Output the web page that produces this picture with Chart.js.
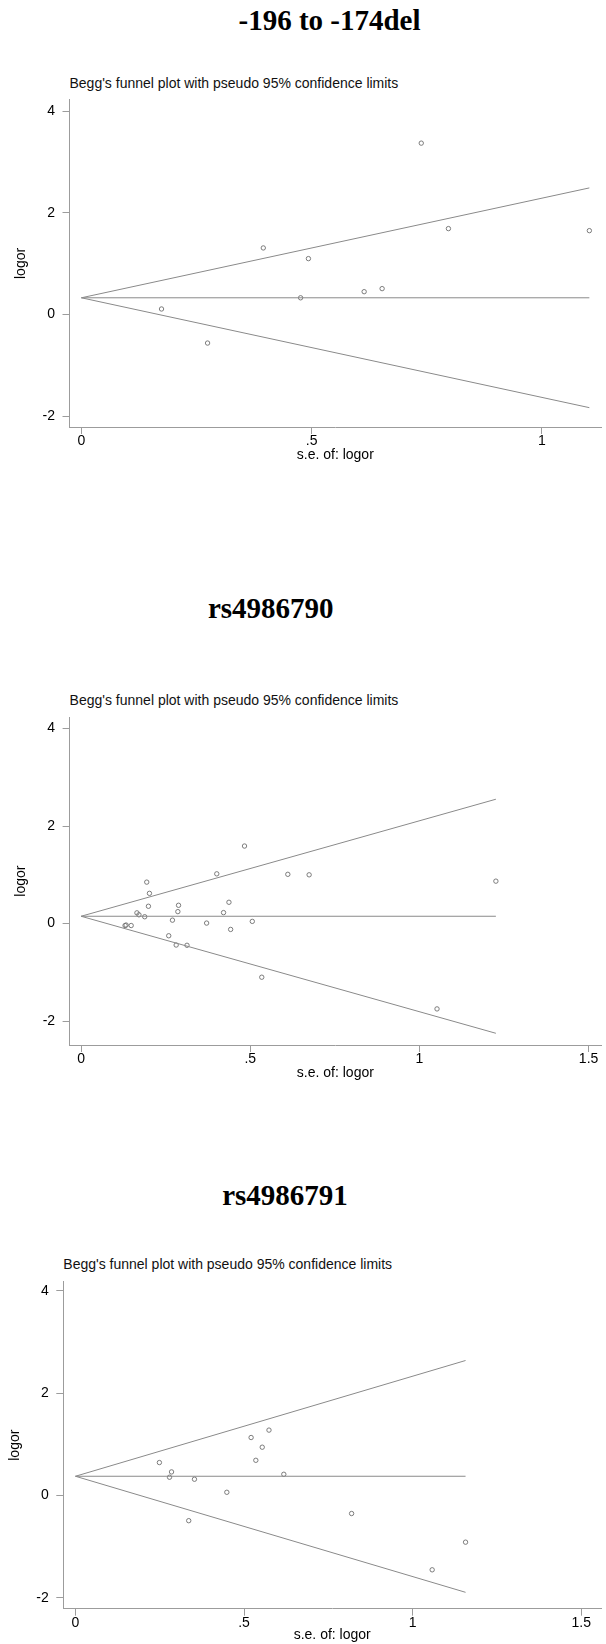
<!DOCTYPE html>
<html>
<head>
<meta charset="utf-8">
<script src="https://cdn.jsdelivr.net/npm/chart.js@4.4.1/dist/chart.umd.min.js"></script>
<style>
  html, body { margin: 0; padding: 0; background: #fff; }
  #page { position: relative; width: 606px; height: 1644px; overflow: hidden; }
  .title { position: absolute; font-family: "Liberation Serif", "Times New Roman", serif; font-weight: bold;
           font-size: 29px; line-height: 29px; white-space: nowrap; transform: translateX(-50%); color: #000; }
  .sub { position: absolute; font-family: "Liberation Sans", Arial, sans-serif; font-size: 14px;
         line-height: 14px; white-space: nowrap; color: #111; }
  canvas { position: absolute; left: 0; }
</style>
</head>
<body>
<div id="page"></div>
<script>
// Begg's funnel plots, three SNPs.

const panelTitles = ['-196 to -174del', 'rs4986790', 'rs4986791'];
const subTitle = "Begg's funnel plot with pseudo 95% confidence limits";
const xAxisTitle = 's.e. of: logor';
const yAxisTitle = 'logor';

const yTicks = [-2, 0, 2, 4];
const xTicks1 = [0, 0.5, 1];
const xTicks23 = [0, 0.5, 1, 1.5];
const xTickText = { 0: '0', 0.5: '.5', 1: '1', 1.5: '1.5' };

// panel 1: -196 to -174del
const se1    = [0.174, 0.274, 0.395, 0.493, 0.476, 0.614, 0.653, 0.738, 0.797, 1.103];
const logor1 = [0.11, -0.56, 1.31, 1.10, 0.33, 0.45, 0.51, 3.37, 1.69, 1.65];

// panel 2: rs4986790
const se2    = [0.130, 0.133, 0.148, 0.165, 0.171, 0.188, 0.194, 0.202, 0.199, 0.259, 0.270, 0.281, 0.286, 0.288,
                0.313, 0.371, 0.401, 0.421, 0.437, 0.442, 0.483, 0.506, 0.534, 0.611, 0.674, 1.052, 1.226];
const logor2 = [-0.04, -0.03, -0.04, 0.22, 0.18, 0.14, 0.85, 0.62, 0.355, -0.25, 0.07, -0.44, 0.245, 0.375,
                -0.445, 0.01, 1.02, 0.225, 0.437, -0.12, 1.59, 0.045, -1.10, 1.01, 1.00, -1.75, 0.87];

// panel 3: rs4986791
const se3    = [0.249, 0.285, 0.279, 0.353, 0.336, 0.449, 0.521, 0.574, 0.554, 0.535, 0.618, 0.819, 1.058, 1.157];
const logor3 = [0.646, 0.463, 0.359, 0.32, -0.49, 0.065, 1.135, 1.28, 0.946, 0.69, 0.417, -0.35, -1.45, -0.91];

// pooled estimate and the pseudo 95% limits at the largest s.e.
const pooled   = [0.33, 0.15, 0.378];
const seEnd    = [1.103, 1.226, 1.157];
const upperEnd = [2.49, 2.55, 2.64];
const lowerEnd = [-1.83, -2.25, -1.89];

const seList = [se1, se2, se3];
const logorList = [logor1, logor2, logor3];
const xTickList = [xTicks1, xTicks23, xTicks23];

// page geometry of each panel (pixels)
const layout = [
  { titleX: 329.5, titleTop: 5.7,    subTop: 75.9,   top: 95,   height: 375, axisX: 69.5, plotTop: 99.3,   plotBottom: 427,
    yPad: 12.6, xPad: 6.6, xMin: -0.0258, xMax: 1.1285, yMin: -2.21, yMax: 4.22 },
  { titleX: 270.8, titleTop: 593.7,  subTop: 693.2,  top: 712,  height: 376, axisX: 69.6, plotTop: 717.3,  plotBottom: 1045,
    yPad: 12.6, xPad: 6.6, xMin: -0.034,  xMax: 1.537,  yMin: -2.49, yMax: 4.23 },
  { titleX: 285,   titleTop: 1180.7, subTop: 1256.5, top: 1276, height: 368, axisX: 63.3, plotTop: 1281.7, plotBottom: 1608.7,
    yPad: 7.1,  xPad: 0,   xMin: -0.036,  xMax: 1.559,  yMin: -2.21, yMax: 4.18 }
];

Chart.defaults.font.family = '"Liberation Sans", Arial, sans-serif';
Chart.defaults.font.size = 14;
Chart.defaults.color = '#000';

const axisGrey = '#9c9c9c';
const lineGrey = '#8a8a8a';
const dotGrey = '#6e6e6e';

const page = document.getElementById('page');

function addText(cls, text, left, top) {
  const d = document.createElement('div');
  d.className = cls;
  d.textContent = text;
  d.style.left = left + 'px';
  d.style.top = top + 'px';
  page.appendChild(d);
}

layout.forEach((L, i) => {
  addText('title', panelTitles[i], L.titleX, L.titleTop);
  addText('sub', subTitle, L.axisX, L.subTop);

  const canvas = document.createElement('canvas');
  canvas.width = 606; canvas.height = L.height;
  canvas.style.top = L.top + 'px';
  page.appendChild(canvas);

  const pts = seList[i].map((s, k) => ({ x: s, y: logorList[i][k] }));
  const line = (y1) => [{ x: 0, y: pooled[i] }, { x: seEnd[i], y: y1 }];
  const lineStyle = { type: 'line', showLine: true, borderColor: lineGrey, borderWidth: 1, pointRadius: 0, fill: false };

  new Chart(canvas.getContext('2d'), {
    type: 'scatter',
    data: {
      datasets: [
        Object.assign({ data: line(upperEnd[i]) }, lineStyle),
        Object.assign({ data: line(pooled[i]) }, lineStyle),
        Object.assign({ data: line(lowerEnd[i]) }, lineStyle),
        { data: pts, pointStyle: 'circle', pointRadius: 2.2, borderWidth: 0.9,
          borderColor: dotGrey, backgroundColor: 'rgba(0,0,0,0)' }
      ]
    },
    options: {
      responsive: false,
      animation: false,
      events: [],
      layout: { padding: { top: L.plotTop - L.top, left: 0, right: 0, bottom: 0 } },
      plugins: { legend: { display: false }, tooltip: { enabled: false } },
      scales: {
        x: {
          type: 'linear', min: L.xMin, max: L.xMax,
          grid: { drawOnChartArea: false, drawTicks: true, tickLength: 7, color: axisGrey },
          border: { display: true, color: axisGrey, width: 1 },
          ticks: { padding: -1, color: '#000', callback: (v) => xTickText[v] },
          title: { display: true, text: xAxisTitle, color: '#000', padding: { top: 0, bottom: L.xPad } },
          afterBuildTicks: (s) => { s.ticks = xTickList[i].map(v => ({ value: v })); },
          afterFit: (s) => { s.height = L.top + L.height - L.plotBottom; s.paddingLeft = 0; s.paddingRight = 0; }
        },
        y: {
          type: 'linear', min: L.yMin, max: L.yMax,
          grid: { drawOnChartArea: false, drawTicks: true, tickLength: 7, color: axisGrey },
          border: { display: true, color: axisGrey, width: 1 },
          ticks: { padding: 7.5, color: '#000', callback: (v) => String(v) },
          title: { display: true, text: yAxisTitle, color: '#000', padding: { top: L.yPad, bottom: 0 } },
          afterBuildTicks: (s) => { s.ticks = yTicks.map(v => ({ value: v })); },
          afterFit: (s) => { s.width = L.axisX; s.paddingTop = 0; s.paddingBottom = 0; }
        }
      }
    }
  });
});
</script>
</body>
</html>
